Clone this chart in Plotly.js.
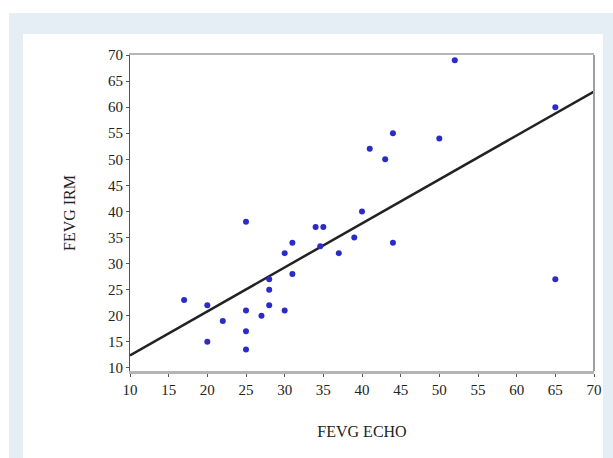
<!DOCTYPE html>
<html>
<head>
<meta charset="utf-8">
<script src="https://cdn.plot.ly/plotly-3.0.1.min.js"></script>
<style>
  html, body { margin: 0; padding: 0; background: #ffffff; width: 613px; height: 458px; overflow: hidden; }
  #bg1 { position: absolute; left: 9px; top: 13px; width: 604px; height: 445px; background: #e5edf5; }
  #bg2 { position: absolute; left: 23px; top: 34px; width: 580px; height: 424px; background: #ffffff; }
  #chart { position: absolute; left: 0; top: 0; width: 613px; height: 458px; }
</style>
</head>
<body>
<div id="bg1"></div>
<div id="bg2"></div>
<div id="chart"></div>
<script>
// Data
const fevgEcho = [17, 20, 20, 22, 25, 25, 25, 25, 27, 28, 28, 28, 30, 30, 31, 31, 34, 35, 34.6, 37, 39, 40, 41, 43, 44, 44, 50, 52, 65, 65];
const fevgIrm  = [23, 22, 15, 19, 38, 21, 17, 13.5, 20, 27, 25, 22, 32, 21, 34, 28, 37, 37, 33.3, 32, 35, 40, 52, 50, 55, 34, 54, 69, 60, 27];
// Regression line endpoints
const fitX = [10, 70];
const fitY = [12.4, 63];
const tickVals = [10, 15, 20, 25, 30, 35, 40, 45, 50, 55, 60, 65, 70];

const serif = 'Liberation Serif, Times New Roman, serif';

const traces = [
  {
    x: fitX, y: fitY, type: 'scatter', mode: 'lines',
    line: { color: '#222222', width: 2.5 }, hoverinfo: 'skip'
  },
  {
    x: fevgEcho, y: fevgIrm, type: 'scatter', mode: 'markers',
    marker: { color: '#2b2bc8', size: 6, line: { width: 0 } }
  }
];

const layout = {
  width: 613, height: 458,
  margin: { l: 130, r: 19, t: 55, b: 87 },
  paper_bgcolor: 'rgba(0,0,0,0)',
  plot_bgcolor: '#ffffff',
  showlegend: false,
  font: { family: serif, color: '#222222', size: 15 },
  xaxis: {
    range: [10, 70], tickvals: tickVals, ticktext: tickVals.map(String),
    showgrid: false, zeroline: false,
    showline: true, linecolor: '#b5b5b5', linewidth: 2.5, mirror: true,
    ticks: 'outside', ticklen: 3, tickcolor: '#555555',
    tickfont: { family: serif, size: 15, color: '#222222' },
    title: { text: 'FEVG ECHO', standoff: 30, font: { family: serif, size: 16, color: '#222222' } }
  },
  yaxis: {
    range: [9.4, 70], tickvals: tickVals, ticktext: tickVals.map(String),
    showgrid: false, zeroline: false,
    showline: true, linecolor: '#555555', linewidth: 1,
    ticks: 'outside', ticklen: 3, tickcolor: '#555555',
    tickfont: { family: serif, size: 15, color: '#222222' },
    title: { text: 'FEVG IRM', standoff: 28, font: { family: serif, size: 16, color: '#222222' } }
  },
  shapes: [
    { type: 'line', xref: 'paper', yref: 'paper', x0: 1, x1: 1, y0: 0, y1: 1,
      line: { color: '#a0a0a0', width: 2 } }
  ]
};

Plotly.newPlot('chart', traces, layout, { displayModeBar: false, staticPlot: true });
</script>
</body>
</html>
